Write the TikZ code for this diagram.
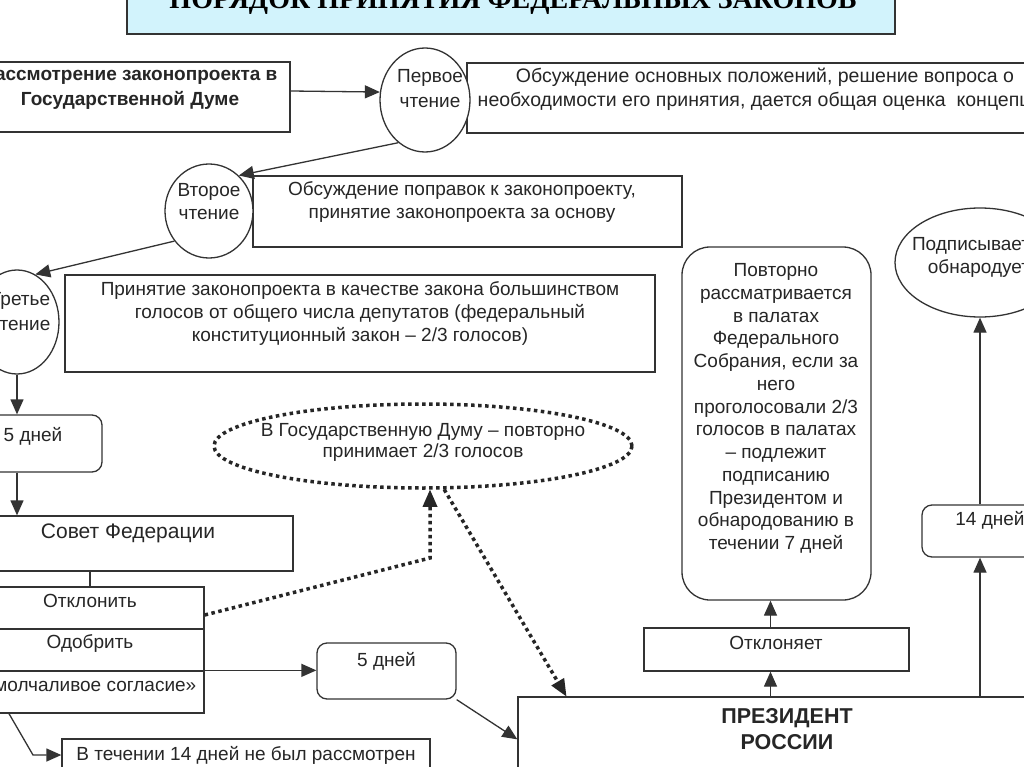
\documentclass[tikz,border=0pt]{standalone}
\usepackage{fontspec}
\setmainfont{Liberation Sans}
\newfontfamily\titlefont{Liberation Serif}
\usetikzlibrary{arrows.meta,shapes.geometric}
\definecolor{titlefill}{HTML}{D2F3FC}
\definecolor{ink}{HTML}{333333}
\begin{document}
\begin{tikzpicture}[x=1pt,y=-1pt,
  box/.style={rectangle, draw=ink, line width=1.3pt, fill=white, inner sep=0pt},
  rbox/.style={box, rounded corners=10pt},
  ell/.style={ellipse, draw=ink, line width=1.3pt, fill=white, inner sep=0pt},
  txt/.style={align=center, inner sep=0pt, text=black!85, font=\fontsize{19}{23}\selectfont},
  arr/.style={draw=ink, line width=1.3pt, -{Triangle[length=15pt,width=13pt]}},
  plain/.style={draw=ink, line width=1.3pt},
  dots/.style={draw=black!85, line width=3.5pt, dash pattern=on 3.5pt off 3.5pt},
  dotarr/.style={dots, -{Triangle[length=17pt,width=15pt,line width=0pt]}}]
\useasboundingbox (0,0) rectangle (1024,767);
\clip (0,0) rectangle (1024,767);
\fill[white] (0,0) rectangle (1024,767);

% title
\node[box, fill=titlefill, draw=black!80, line width=1.5pt, minimum width=768pt, minimum height=70pt] (title) at (511,-1) {};
\node[inner sep=0pt, anchor=base, font=\titlefont\bfseries\fontsize{28}{30}\selectfont] (titletext) at (513,9) {ПОРЯДОК ПРИНЯТИЯ ФЕДЕРАЛЬНЫХ ЗАКОНОВ};

% first reading
\node[box, minimum width=330pt, minimum height=70pt] (b1) at (125,97) {};
\node[txt, font=\bfseries\fontsize{19}{25}\selectfont] (b1t) at (130,88) {Рассмотрение законопроекта в\\Государственной Думе};
\node[box, minimum width=583pt, minimum height=70pt] (b2) at (758.5,98) {};
\node[txt, font=\fontsize{19.5}{24}\selectfont] (b2t) at (765,89) {Обсуждение основных положений, решение вопроса о\\необходимости его принятия, дается общая оценка\ \ концепции};
\node[ell, minimum width=90pt, minimum height=104pt] (e1) at (425,100) {};
\node[txt, font=\fontsize{19}{25}\selectfont] (e1t) at (430,89) {Первое\\чтение};

% second reading
\node[box, minimum width=429pt, minimum height=71pt] (b3) at (467.5,211.5) {};
\node[txt] (b3t) at (462,202.5) {Обсуждение поправок к законопроекту,\\принятие законопроекта за основу};
\node[ell, minimum width=88pt, minimum height=94pt] (e2) at (209,211) {};
\node[txt] (e2t) at (209,202) {Второе\\чтение};

% third reading
\node[box, minimum width=590pt, minimum height=97pt] (b4) at (360,323.5) {};
\node[txt] (b4t) at (360,314) {Принятие законопроекта в качестве закона большинством\\голосов от общего числа депутатов (федеральный\\конституционный закон – 2/3 голосов)};
\node[ell, minimum width=84pt, minimum height=104pt] (e3) at (17,322) {};
\node[txt, font=\fontsize{19}{25}\selectfont] (e3t) at (20,312) {Третье\\чтение};

% 5 days, council
\node[rbox, minimum width=138pt, minimum height=57pt] (d5a) at (33,443.5) {};
\node[txt] (d5at) at (33,436) {5 дней};
\node[box, minimum width=330pt, minimum height=55pt] (sovet) at (128,543.5) {};
\node[txt, font=\fontsize{21}{25}\selectfont] (sovett) at (128,533) {Совет Федерации};
\node[box, minimum width=228pt, minimum height=42pt] (r1) at (90,608) {};
\node[box, minimum width=228pt, minimum height=42pt] (r2) at (90,650) {};
\node[box, minimum width=228pt, minimum height=42pt] (r3) at (90,692) {};
\node[txt] (r1t) at (90,601) {Отклонить};
\node[txt] (r2t) at (90,643) {Одобрить};
\node[txt] (r3t) at (90,686) {«молчаливое согласие»};

% dotted ellipse
\node[ellipse, dots, minimum width=418pt, minimum height=84pt, inner sep=0pt] (dell) at (423,446) {};
\node[txt, font=\fontsize{19}{21.6}\selectfont] (dellt) at (423,442.5) {В Государственную Думу – повторно\\принимает 2/3 голосов};

% middle 5 days
\node[rbox, minimum width=139pt, minimum height=56pt] (d5b) at (386.5,671) {};
\node[txt] (d5bt) at (386.5,661) {5 дней};

% 14 days not considered
\node[box, minimum width=368pt, minimum height=61pt] (b14) at (246,769.5) {};
\node[txt] (b14t) at (246,755) {В течении 14 дней не был рассмотрен};

% president
\node[box, minimum width=538pt, minimum height=103pt] (pres) at (787,748.5) {};
\node[txt, font=\bfseries\fontsize{21.5}{26}\selectfont] (prest) at (787,729) {ПРЕЗИДЕНТ\\РОССИИ};
\node[box, minimum width=265pt, minimum height=43pt] (otkl) at (776.5,649.5) {};
\node[txt] (otklt) at (776,643) {Отклоняет};
\node[box, rounded corners=28pt, minimum width=189pt, minimum height=353pt] (tall) at (776.5,423.5) {};
\node[txt, font=\fontsize{19}{22.75}\selectfont] (tallt) at (776,408.5) {Повторно\\рассматривается\\в палатах\\Федерального\\Собрания, если за\\него\\проголосовали 2/3\\голосов в палатах\\– подлежит\\подписанию\\Президентом и\\обнародованию в\\течении 7 дней};
\node[ell, minimum width=170pt, minimum height=109pt] (e4) at (980,262.5) {};
\node[txt] (e4t) at (979,257) {Подписывает и\\обнародует};
\node[rbox, minimum width=138pt, minimum height=52pt] (d14) at (991,531) {};
\node[txt] (d14t) at (990,520) {14 дней};

% connectors
\draw[arr] ([yshift=6pt]b1.east) -- (e1.170);
\draw[arr] (e1.238) -- (e2.50);
\draw[arr] (e2.221) -- (e3.69);
\draw[arr] (e3.south) -- (e3.south |- d5a.north);
\draw[arr] (d5a.south -| e3.south) -- (sovet.north -| e3.south);
\draw[plain] (r1.north |- sovet.south) -- (r1.north);
\coordinate (dk) at (430,558);
\draw[dotarr] ([yshift=-7pt]r1.east) -- (dk) -- (dk |- dell.south);
\draw[dotarr] (dell.-64) -- ([xshift=49pt]pres.north west);
\draw[arr] (r3.north east) -- (r3.north east -| d5b.west);
\draw[arr] (d5b.south east) -- ([yshift=-43pt]pres.north west);
\coordinate (bk) at (33,755);
\draw[arr] ([xshift=-81pt]r3.south) -- (bk) -- (bk -| b14.west);
\draw[arr] ([xshift=-6pt]otkl.south |- pres.north) -- ([xshift=-6pt]otkl.south);
\draw[arr] ([xshift=-6pt]otkl.north) -- ([xshift=-6pt]otkl.north |- tall.south);
\draw[arr] (pres.north -| e4.south) -- (d14.south -| e4.south);
\draw[arr] (d14.north -| e4.south) -- (e4.south);
\end{tikzpicture}
\end{document}
